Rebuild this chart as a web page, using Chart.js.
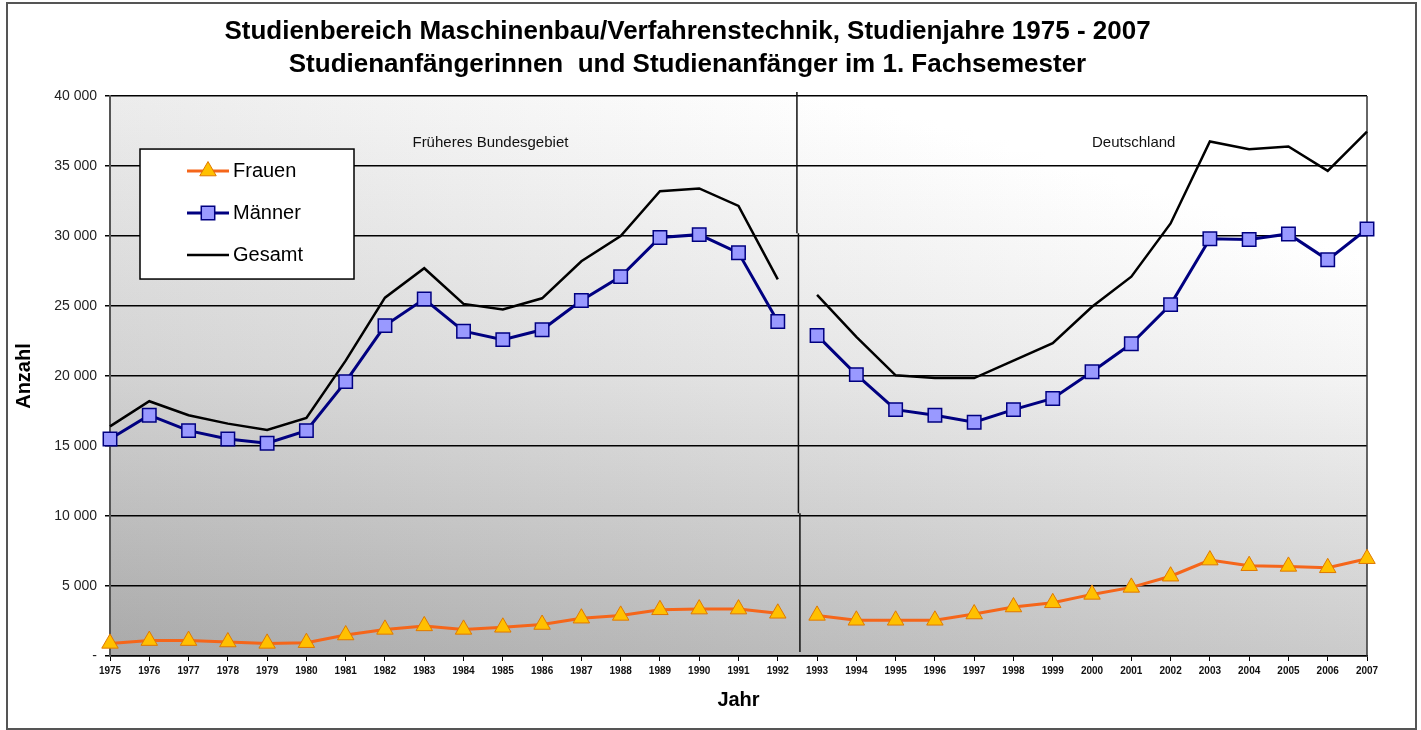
<!DOCTYPE html>
<html>
<head>
<meta charset="utf-8">
<script src="https://cdn.jsdelivr.net/npm/chart.js@4.4.1/dist/chart.umd.min.js"></script>
<style>
html,body{margin:0;padding:0;background:#fff;}
#wrap{width:1421px;height:730px;position:relative;}
</style>
</head>
<body>
<div id="wrap"><canvas id="c" width="1421" height="730"></canvas></div>
<script>
// ---------- data ----------
const years = ['1975','1976','1977','1978','1979','1980','1981','1982','1983','1984','1985','1986','1987','1988','1989','1990','1991','1992',
               '1993','1994','1995','1996','1997','1998','1999','2000','2001','2002','2003','2004','2005','2006','2007'];
const frauen  = [900,1100,1100,1000,900,950,1500,1900,2150,1900,2050,2250,2700,2900,3300,3350,3350,3050,
                 2900,2550,2550,2550,3000,3500,3800,4400,4900,5700,6850,6450,6400,6300,6950];
const maenner = [15500,17200,16100,15500,15200,16100,19600,23600,25500,23200,22600,23300,25400,27100,29900,30100,28800,23900,
                 22900,20100,17600,17200,16700,17600,18400,20300,22300,25100,29800,29750,30150,28300,30500];
const gesamt  = [16400,18200,17200,16600,16150,17000,21100,25600,27700,25150,24750,25550,28200,30000,33200,33400,32150,26900,
                 25800,22800,20050,19850,19850,21100,22350,24950,27100,30900,36750,36200,36400,34650,37450];
const seriesNames = ['Frauen','Männer','Gesamt'];
const titleLines = ['Studienbereich Maschinenbau/Verfahrenstechnik, Studienjahre 1975 - 2007',
                    'Studienanfängerinnen  und Studienanfänger im 1. Fachsemester'];
const regionNames = ['Früheres Bundesgebiet','Deutschland'];
const lastOldIndex = 17; // 1992: last year "Früheres Bundesgebiet"
const yMin = 0, yMax = 40000, yStep = 5000;
const xTitle = 'Jahr', yTitle = 'Anzahl';

// ---------- styles ----------
const FONT = "'Liberation Sans', Arial, sans-serif";
const colFrauenLine = '#f5661a', colFrauenFill = '#ffc000', colFrauenEdge = '#e07800';
const colMaennerLine = '#000080', colMaennerFill = '#9999ff';
const colGesamt = '#000000';

function gapAt(color) {
  return ctx => (ctx.p0DataIndex === lastOldIndex ? 'rgba(0,0,0,0)' : color);
}
function fmt(v) {
  if (v === 0) return '-';
  return String(v).replace(/\B(?=(\d{3})+(?!\d))/g, ' ');
}

const frame = {
  id: 'frame',
  beforeDraw(chart) {
    const {ctx, chartArea: a} = chart;
    ctx.save();
    ctx.fillStyle = '#fff';
    ctx.fillRect(0, 0, chart.width, chart.height);
    ctx.strokeStyle = '#555';
    ctx.lineWidth = 2;
    ctx.strokeRect(7, 3, 1409, 726);
    // plot area gradient
    const g = ctx.createLinearGradient(0, a.bottom, 0, a.top);
    g.addColorStop(0, '#a9a9a9');
    g.addColorStop(0.5, '#d2d2d2');
    g.addColorStop(1, '#ececec');
    ctx.fillStyle = g;
    ctx.fillRect(a.left, a.top, a.right - a.left, a.bottom - a.top);
    const h = ctx.createLinearGradient(a.left, 0, a.right, 0);
    h.addColorStop(0, 'rgba(32,32,32,0)');
    h.addColorStop(1, 'rgb(34,34,34)');
    ctx.globalCompositeOperation = 'lighter';
    ctx.fillStyle = h;
    ctx.fillRect(a.left, a.top, a.right - a.left, a.bottom - a.top);
    ctx.restore();
  },
  beforeDatasetsDraw(chart) {
    const {ctx, chartArea: a, scales: {x, y}} = chart;
    ctx.save();
    // right plot edge
    ctx.strokeStyle = '#333';
    ctx.lineWidth = 1.5;
    ctx.beginPath();
    ctx.moveTo(a.right, a.top); ctx.lineTo(a.right, a.bottom);
    ctx.stroke();
    // divider between 1992 and 1993
    const mx = (x.getPixelForValue(lastOldIndex) + x.getPixelForValue(lastOldIndex + 1)) / 2;
    ctx.strokeStyle = '#111';
    ctx.lineWidth = 1.5;
    const yA = a.top - 4, yB = y.getPixelForValue(30200), yC = y.getPixelForValue(10200), yD = a.bottom - 4;
    ctx.beginPath();
    ctx.moveTo(mx - 0.5, yA); ctx.lineTo(mx - 0.5, yB);
    ctx.moveTo(mx + 1, yB); ctx.lineTo(mx + 1, yC);
    ctx.moveTo(mx + 2.5, yC); ctx.lineTo(mx + 2.5, yD);
    ctx.stroke();
    // region labels
    ctx.fillStyle = '#111';
    ctx.font = '15px ' + FONT;
    ctx.textBaseline = 'middle';
    ctx.textAlign = 'left';
    const ly = y.getPixelForValue(36650);
    ctx.fillText(regionNames[0], x.getPixelForValue(7.7), ly);
    ctx.fillText(regionNames[1], x.getPixelForValue(25.0), ly);
    ctx.restore();
  },
  afterDraw(chart) {
    // legend box
    const {ctx, chartArea: a} = chart;
    const bx = a.left + 30, by = a.top + 53, bw = 214, bh = 130;
    ctx.save();
    ctx.fillStyle = '#fff';
    ctx.fillRect(bx, by, bw, bh);
    ctx.strokeStyle = '#000';
    ctx.lineWidth = 1.5;
    ctx.strokeRect(bx, by, bw, bh);
    ctx.font = '20px ' + FONT;
    ctx.textBaseline = 'middle';
    const rows = [22, 64, 106];
    chart.data.datasets.forEach((ds, i) => {
      const cy = by + rows[i];
      const x0 = bx + 47, x1 = bx + 89;
      ctx.strokeStyle = ds.borderColor;
      ctx.lineWidth = ds.borderWidth;
      ctx.beginPath(); ctx.moveTo(x0, cy); ctx.lineTo(x1, cy); ctx.stroke();
      if (ds.pointStyle && ds.pointRadius > 0) {
        ctx.fillStyle = ds.pointBackgroundColor;
        ctx.strokeStyle = ds.pointBorderColor;
        ctx.lineWidth = ds.pointBorderWidth;
        Chart.helpers.drawPoint(ctx, {pointStyle: ds.pointStyle, radius: ds.pointRadius, rotation: 0, borderWidth: ds.pointBorderWidth}, (x0 + x1) / 2, cy);
      }
      ctx.fillStyle = '#000';
      ctx.fillText(ds.label, x1 + 4, cy);
    });
    ctx.restore();
  }
};

new Chart(document.getElementById('c'), {
  type: 'line',
  data: {
    labels: years,
    datasets: [
      {
        label: seriesNames[0], data: frauen,
        borderColor: colFrauenLine, borderWidth: 3,
        pointStyle: 'triangle', pointRadius: 9.5,
        pointBackgroundColor: colFrauenFill, pointBorderColor: colFrauenEdge, pointBorderWidth: 1,
        segment: {borderColor: gapAt(colFrauenLine)}
      },
      {
        label: seriesNames[1], data: maenner,
        borderColor: colMaennerLine, borderWidth: 3,
        pointStyle: 'rect', pointRadius: 9.5,
        pointBackgroundColor: colMaennerFill, pointBorderColor: colMaennerLine, pointBorderWidth: 1.5,
        segment: {borderColor: gapAt(colMaennerLine)}
      },
      {
        label: seriesNames[2], data: gesamt,
        borderColor: colGesamt, borderWidth: 2.5,
        pointRadius: 0, pointStyle: false,
        segment: {borderColor: gapAt(colGesamt)}
      }
    ]
  },
  options: {
    responsive: false,
    animation: false,
    devicePixelRatio: 1,
    layout: {padding: {top: 0, left: 8, right: 54, bottom: 14}},
    plugins: {
      legend: {display: false},
      tooltip: {enabled: false},
      title: {
        display: true, text: titleLines, color: '#000',
        font: {family: FONT, size: 26, weight: 'bold', lineHeight: 1.27},
        padding: {top: 15, bottom: 15}
      }
    },
    scales: {
      x: {
        offset: false,
        grid: {display: true, drawOnChartArea: false, drawTicks: true, tickLength: 5, color: '#000', lineWidth: 1},
        border: {display: true, color: '#000', width: 1.5},
        ticks: {color: '#111', font: {family: FONT, size: 10, weight: 'bold'}, padding: 4, maxRotation: 0, autoSkip: false},
        title: {display: true, text: xTitle, color: '#000', font: {family: FONT, size: 20, weight: 'bold'}, padding: {top: 4, bottom: 4}},
        afterFit(s) { s.height = 60; }
      },
      y: {
        min: yMin, max: yMax,
        ticks: {stepSize: yStep, callback: v => fmt(v), color: '#222', font: {family: FONT, size: 14}, padding: 8},
        grid: {color: '#000', lineWidth: 1.5, tickLength: 5, tickColor: '#000'},
        border: {display: true, color: '#555', width: 2},
        title: {display: true, text: yTitle, color: '#000', font: {family: FONT, size: 20, weight: 'bold'}, padding: {top: 4, bottom: 4}},
        afterFit(s) { s.width = 102; }
      }
    }
  },
  plugins: [frame]
});
</script>
</body>
</html>
